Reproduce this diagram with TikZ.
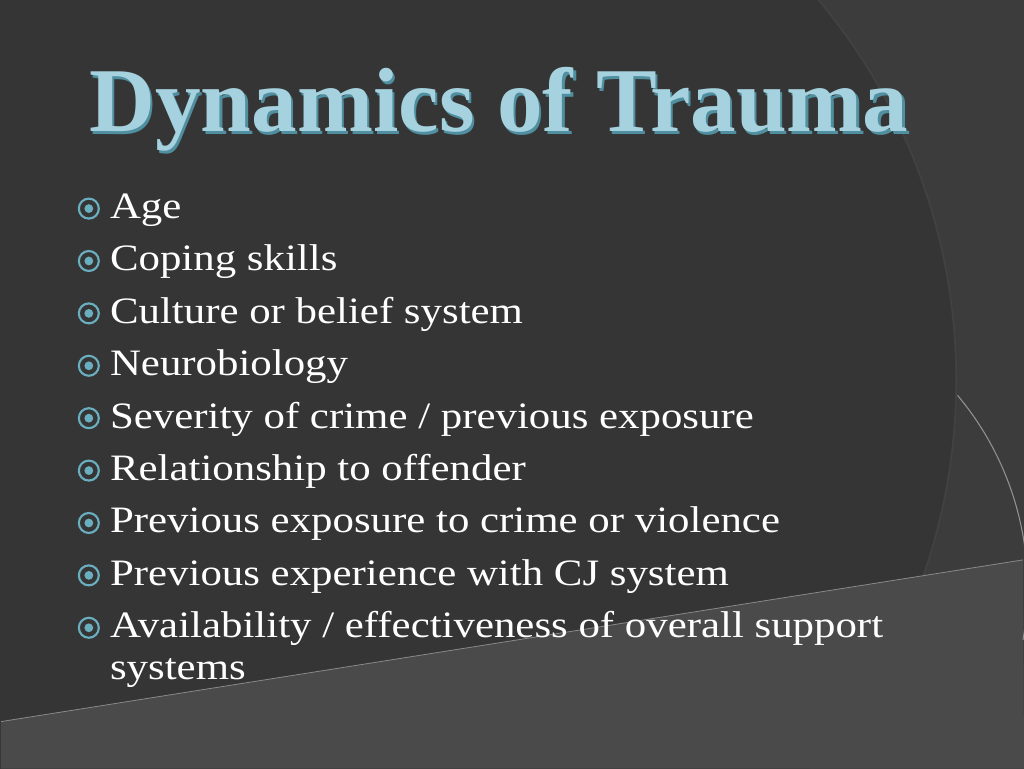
\documentclass[tikz,border=0pt]{standalone}
\usepackage{fontspec}
\setmainfont{Liberation Serif}
\newfontfamily\bodyfont[FakeStretch=1.15]{Liberation Serif}
\begin{document}
\begin{tikzpicture}[x=0.75pt,y=-0.75pt,
  item/.style={anchor=base west,text=white,font=\bodyfont\fontsize{28}{32}\selectfont,inner sep=0pt},
  bul/.style={circle,draw=bulc,line width=1.6pt,minimum size=15pt,inner sep=0pt,
     path picture={\fill[bulc] (path picture bounding box.center) circle (3.3pt);}}]
\definecolor{bg}{HTML}{353535}
\definecolor{bgr}{HTML}{3C3C3C}
\definecolor{band}{HTML}{4A4A4A}
\definecolor{bulc}{HTML}{6AAFBF}
\definecolor{tl}{HTML}{A5D2DE}
\definecolor{td}{HTML}{4F8FA0}
\fill[bgr] (-1,-1) rectangle (1025,769);
\useasboundingbox (0,0) rectangle (1024,768);
\fill[bg] (362,380) circle (595);
\fill[band] (0,722) -- (1024,560) -- (1025,769) -- (0,769) -- cycle;
\draw[black!70,line width=1.2pt,opacity=0.5] (362,380) circle (595);
\draw[white!40!band,line width=0.8pt] (1024,640) arc[start angle=10,end angle=-40,radius=300] ;
\draw[white!35!band,line width=0.6pt] (0,722) -- (1024,560);
% title with shadow
\node[anchor=base,inner sep=0pt] (t) at (499,131) {\resizebox{615pt}{!}{\bfseries
  \rlap{\raisebox{-0.25pt}{\hspace{0.25pt}\textcolor{td}{Dynamics of Trauma}}}\textcolor{tl}{Dynamics of Trauma}}};
% items
\foreach \i/\t in {0/Age,1/Coping skills,2/Culture or belief system,3/Neurobiology,
 4/{Severity of crime / previous exposure},5/Relationship to offender,
 6/Previous exposure to crime or violence,7/Previous experience with CJ system,
 8/{Availability / effectiveness of overall support}}{
  \node[item] (i\i) at (109,218+52.5*\i) {\t};
  \node[bul] (b\i) at (88,208+52.5*\i) {};
}
\node[item] (i9) at (109,680) {systems};
\end{tikzpicture}
\end{document}
